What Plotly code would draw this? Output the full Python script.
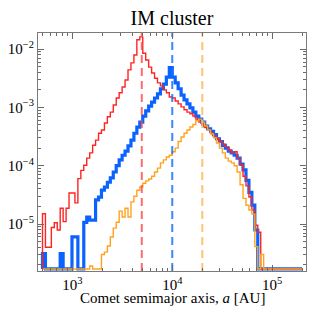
import numpy as np
import plotly.graph_objects as go

# ---- histogram bins: log10(a / AU), 88 equal bins ----
log_a_min, log_a_max, n_bins = 2.7, 5.3, 88

# ---- fraction of comets per bin (0 = empty bin) ----
red_vals = [
    1.5e-5, 4.0e-6, 4.0e-6, 8.7e-6, 1.05e-5, 7.9e-6, 1.86e-5, 1.1e-5, 1.86e-5, 3.4e-5,
    3.4e-5, 2.3e-5, 6.0e-5, 8.3e-5, 1.02e-4, 1.35e-4, 1.66e-4, 2.24e-4, 2.75e-4, 3.6e-4,
    4.1e-4, 5.4e-4, 6.9e-4, 8.3e-4, 1.10e-3, 1.45e-3, 1.78e-3, 2.24e-3, 2.95e-3, 4.4e-3,
    5.8e-3, 7.9e-3, 1.45e-2, 1.62e-2, 8.5e-3, 6.5e-3, 4.9e-3, 3.9e-3, 3.16e-3, 2.63e-3,
    2.34e-3, 2.0e-3, 1.78e-3, 1.51e-3, 1.45e-3, 1.29e-3, 1.15e-3, 1.02e-3, 9.1e-4, 8.3e-4,
    7.8e-4, 7.1e-4, 6.3e-4, 5.6e-4, 5.0e-4, 4.5e-4, 4.1e-4, 3.6e-4, 3.2e-4, 2.9e-4,
    2.6e-4, 2.34e-4, 2.1e-4, 1.86e-4, 1.66e-4, 1.74e-4, 1.35e-4, 1.02e-4, 6.6e-5, 4.5e-5,
    2.9e-5, 1.74e-5, 9.5e-6, 7.2e-6, 0, 0, 0, 0, 0, 0,
    0, 0, 0, 0, 0, 0, 0, 0,
]
blue_vals = [
    3.1e-6, 0, 0, 0, 0, 0, 3.1e-6, 0, 0, 0,
    6.0e-6, 6.0e-6, 0, 0, 1.07e-5, 1.32e-5, 1.17e-5, 1.17e-5, 2.6e-5, 2.9e-5,
    3.8e-5, 4.3e-5, 5.2e-5, 6.2e-5, 7.8e-5, 1.0e-4, 1.26e-4, 1.51e-4, 1.78e-4, 2.19e-4,
    2.75e-4, 3.6e-4, 4.6e-4, 5.6e-4, 7.1e-4, 8.7e-4, 1.05e-3, 1.23e-3, 1.45e-3, 1.70e-3,
    2.09e-3, 2.51e-3, 3.3e-3, 4.8e-3, 3.3e-3, 2.63e-3, 2.09e-3, 1.62e-3, 1.35e-3, 1.15e-3,
    9.8e-4, 8.3e-4, 7.1e-4, 6.3e-4, 5.6e-4, 4.8e-4, 4.3e-4, 3.9e-4, 3.4e-4, 2.9e-4,
    2.6e-4, 2.24e-4, 2.0e-4, 1.78e-4, 1.66e-4, 1.51e-4, 1.35e-4, 1.07e-4, 8.5e-5, 5.6e-5,
    3.5e-5, 2.1e-5, 7.9e-6, 0, 0, 0, 0, 0, 0, 0,
    0, 0, 0, 0, 0, 0, 0, 0,
]
orange_vals = [
    0, 0, 0, 0, 0, 0, 0, 0, 0, 0,
    0, 0, 0, 0, 0, 0, 1.9e-6, 0, 0, 0,
    3.0e-6, 3.3e-6, 4.2e-6, 6.0e-6, 8.5e-6, 1.07e-5, 1.66e-5, 1.32e-5, 1.86e-5, 1.32e-5,
    2.4e-5, 3.0e-5, 3.8e-5, 4.3e-5, 5.0e-5, 5.5e-5, 5.9e-5, 6.6e-5, 7.8e-5, 9.1e-5,
    1.12e-4, 1.26e-4, 1.41e-4, 1.51e-4, 1.74e-4, 2.0e-4, 2.6e-4, 3.1e-4, 3.6e-4, 4.1e-4,
    4.6e-4, 5.1e-4, 5.9e-4, 6.3e-4, 5.6e-4, 4.8e-4, 4.1e-4, 3.5e-4, 3.0e-4, 2.45e-4,
    2.0e-4, 1.66e-4, 1.35e-4, 1.20e-4, 1.12e-4, 1.0e-4, 7.8e-5, 4.7e-5, 2.75e-5, 2.1e-5,
    1.74e-5, 1.48e-5, 4.1e-6, 0, 3.0e-6, 0, 0, 0, 0, 0,
    0, 0, 0, 0, 0, 0, 0, 0,
]
# median semimajor axes (dashed lines), AU
medians = [4950, 10000, 20000]

# ---- tick labels ----
x_major = [1e3, 1e4, 1e5]
x_major_text = ["10<sup>3</sup>", "10<sup>4</sup>", "10<sup>5</sup>"]
y_major = [1e-5, 1e-4, 1e-3, 1e-2]
y_major_text = ["10<sup>\u22125</sup>", "10<sup>\u22124</sup>", "10<sup>\u22123</sup>", "10<sup>\u22122</sup>"]

# ---- styles ----
x_range_log = [2.655, 5.34]
y_range_log = [-5.806, -1.724]
floor_val = 10 ** (y_range_log[0] + 0.035)   # empty bins drawn along the bottom
series = [
    ("blue", blue_vals, "#0a62ff", 3.2),
    ("red", red_vals, "#ff2424", 1.4),
    ("orange", orange_vals, "#ffa21f", 1.4),
]
dash_colors = ["rgba(255,70,70,0.8)", "rgba(25,115,255,0.85)", "rgba(255,185,90,0.85)"]

edges = 10 ** np.linspace(log_a_min, log_a_max, n_bins + 1)

fig = go.Figure()
for name, vals, col, w in series:
    yv = [v if v > 0 else floor_val for v in vals]
    xs = [edges[0]] + list(edges[:-1]) + [edges[-1]]
    ys = [floor_val] + yv + [floor_val]
    fig.add_trace(go.Scatter(x=xs, y=ys, mode="lines", line=dict(color=col, width=w, shape="hv"),
                             showlegend=False, hoverinfo="skip"))

for m, c in zip(medians, dash_colors):
    fig.add_trace(go.Scatter(x=[m, m], y=[10 ** y_range_log[0], 10 ** y_range_log[1]], mode="lines",
                             line=dict(color=c, width=2, dash="8px,5px"), showlegend=False, hoverinfo="skip"))

x_minor = [k * 10 ** e for e in range(2, 6) for k in range(2, 10) if x_range_log[0] < np.log10(k * 10 ** e) < x_range_log[1]]
y_minor = [k * 10 ** e for e in range(-6, -1) for k in range(2, 10) if y_range_log[0] < np.log10(k * 10 ** e) < y_range_log[1]]

font_family = "Liberation Serif, Times New Roman, serif"
axis_common = dict(showline=True, linecolor="#7a7a7a", linewidth=1, mirror="allticks",
                   ticks="inside", ticklen=6, tickwidth=1, tickcolor="#6a6a6a",
                   showgrid=False, zeroline=False, automargin=False,
                   tickfont=dict(family=font_family, size=15, color="black"))

fig.update_xaxes(type="log", range=x_range_log, tickmode="array", tickvals=x_major, ticktext=x_major_text,
                 minor=dict(tickmode="array", tickvals=x_minor, ticks="inside", ticklen=3, tickcolor="#6a6a6a"),
                 **axis_common)
fig.update_yaxes(type="log", range=y_range_log, tickmode="array", tickvals=y_major, ticktext=y_major_text,
                 minor=dict(tickmode="array", tickvals=y_minor, ticks="inside", ticklen=3, tickcolor="#6a6a6a"),
                 **axis_common)

fig.update_layout(
    template="none",
    width=313, height=314,
    margin=dict(l=38, r=7, t=33, b=43, autoexpand=False),
    paper_bgcolor="white", plot_bgcolor="white",
    title=dict(text="IM cluster", font=dict(family=font_family, size=20, color="black"),
               x=0.5, xref="paper", xanchor="center", y=1 - 18 / 314, yref="container", yanchor="middle"),
    annotations=[dict(text="Comet semimajor axis, <i>a</i> [AU]", xref="paper", yref="paper",
                      x=0.5, y=-(298 - 271) / 238, xanchor="center", yanchor="middle", showarrow=False,
                      font=dict(family=font_family, size=15, color="black"))],
)

fig.write_html("out.html", config={"displayModeBar": False},
               post_script="document.body.style.margin='0px';document.body.style.overflow='hidden';")
